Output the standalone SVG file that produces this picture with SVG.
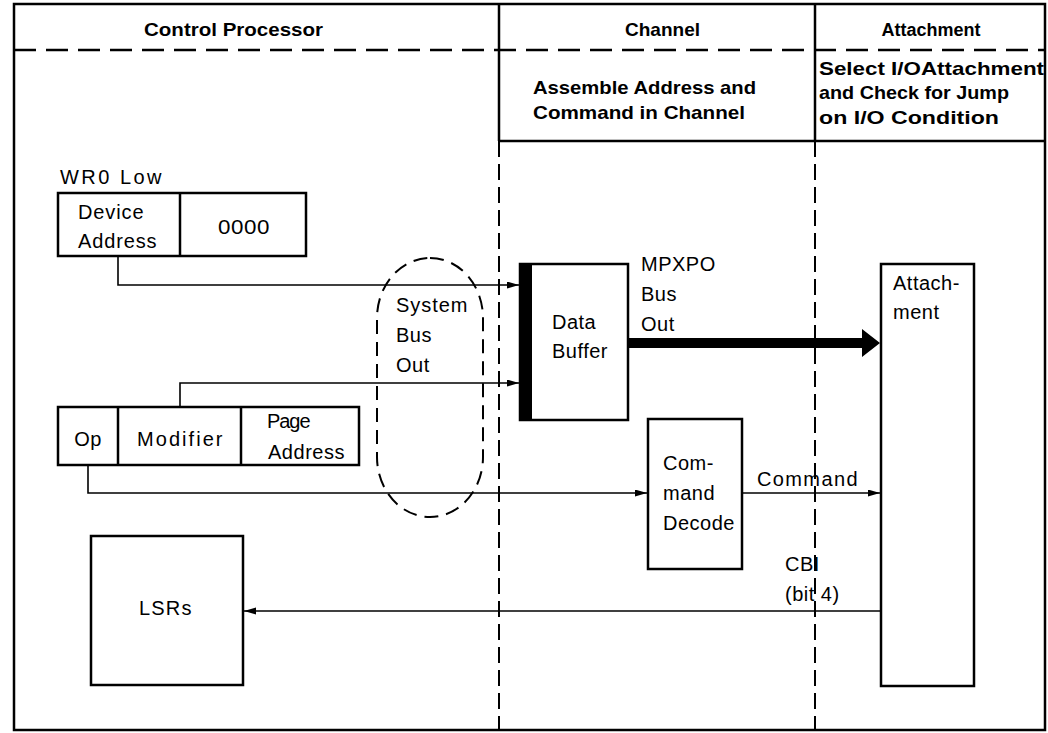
<svg xmlns="http://www.w3.org/2000/svg" width="1048" height="733" viewBox="0 0 1048 733">
<style>
.hd{font-family:"Liberation Sans",Arial,sans-serif;font-weight:bold;font-size:19px;fill:#000}
.tx{font-family:"Liberation Sans",Arial,sans-serif;font-size:20px;fill:#000;letter-spacing:0.5px}
.box{fill:#fff;stroke:#000;stroke-width:2.5}
.ln{fill:none;stroke:#000;stroke-width:1.6}
.dv{fill:none;stroke:#000;stroke-width:2;stroke-dasharray:16 7}
.dh{fill:none;stroke:#000;stroke-width:2.5;stroke-dasharray:22 10}
.sol{fill:none;stroke:#000;stroke-width:2.5}
</style>
<defs>
<marker id="ah" markerUnits="userSpaceOnUse" markerWidth="14" markerHeight="10" refX="12" refY="3.5" orient="auto">
<path d="M0,0 L12,3.5 L0,7 z" fill="#000"/>
</marker>
</defs>
<rect width="1048" height="733" fill="#fff"/>
<g id="frame">
<rect x="14" y="4" width="1031" height="726" class="sol"/>
<line x1="14" y1="50" x2="1045" y2="50" class="dh"/>
<line x1="499" y1="4" x2="499" y2="141" class="sol"/>
<line x1="815" y1="4" x2="815" y2="141" class="sol"/>
<line x1="499" y1="141" x2="1045" y2="141" class="sol"/>
<line x1="499" y1="141" x2="499" y2="730" class="dv"/>
<line x1="815" y1="141" x2="815" y2="730" class="dv"/>
</g>
<g id="headers">
<text class="hd" x="144" y="36" textLength="179" lengthAdjust="spacingAndGlyphs">Control Processor</text>
<text class="hd" x="625" y="36" textLength="75" lengthAdjust="spacingAndGlyphs">Channel</text>
<text class="hd" x="931" y="36" text-anchor="middle" style="font-size:18px">Attachment</text>
<text class="hd" x="533" y="94" textLength="223" lengthAdjust="spacingAndGlyphs">Assemble Address and</text>
<text class="hd" x="533" y="119" textLength="212" lengthAdjust="spacingAndGlyphs">Command in Channel</text>
<text class="hd" x="819" y="75" textLength="225" lengthAdjust="spacingAndGlyphs">Select I/OAttachment</text>
<text class="hd" x="819" y="99" textLength="190" lengthAdjust="spacingAndGlyphs">and Check for Jump</text>
<text class="hd" x="819" y="124" textLength="180" lengthAdjust="spacingAndGlyphs">on I/O Condition</text>
</g>
<g id="connectors">
<polyline class="ln" points="118,256 118,285 519,285" marker-end="url(#ah)"/>
<polyline class="ln" points="180,407 180,383 519,383" marker-end="url(#ah)"/>
<polyline class="ln" points="88,465 88,493 647,493" marker-end="url(#ah)"/>
<line class="ln" x1="742" y1="493" x2="880" y2="493" marker-end="url(#ah)"/>
<line class="ln" x1="881" y1="611" x2="244" y2="611" marker-end="url(#ah)"/>
<path d="M628,338 L862,338 L862,329 L880,343 L862,357 L862,348 L628,348 z" fill="#000"/>
<text class="tx" x="641" y="271">MPXPO</text>
<text class="tx" x="641" y="301">Bus</text>
<text class="tx" x="641" y="331">Out</text>
<text class="tx" x="757" y="486" textLength="101" lengthAdjust="spacing">Command</text>
<text class="tx" x="785" y="571">CBI</text>
<text class="tx" x="785" y="601">(bit 4)</text>
</g>
<g id="wr0">
<text class="tx" x="60" y="184" textLength="102" lengthAdjust="spacing">WR0 Low</text>
<rect class="box" x="58" y="193" width="248" height="63"/>
<line class="sol" x1="180" y1="193" x2="180" y2="256"/>
<text class="tx" x="78" y="219" textLength="66" lengthAdjust="spacing">Device</text>
<text class="tx" x="78" y="248" textLength="79" lengthAdjust="spacing">Address</text>
<text class="tx" x="218" y="234" textLength="52" lengthAdjust="spacingAndGlyphs">0000</text>
</g>
<g id="opreg">
<rect class="box" x="58" y="407" width="301" height="58"/>
<line class="sol" x1="118" y1="407" x2="118" y2="465"/>
<line class="sol" x1="241" y1="407" x2="241" y2="465"/>
<text class="tx" x="88" y="446" text-anchor="middle">Op</text>
<text class="tx" x="137" y="446" textLength="86" lengthAdjust="spacing">Modifier</text>
<text class="tx" x="267" y="428" textLength="44" lengthAdjust="spacing">Page</text>
<text class="tx" x="268" y="459" textLength="77" lengthAdjust="spacing">Address</text>
</g>
<g id="sysbus">
<rect x="377" y="258" width="106" height="259" rx="53" ry="60" fill="none" stroke="#000" stroke-width="2" stroke-dasharray="14 8"/>
<text class="tx" x="396" y="312" textLength="72" lengthAdjust="spacing">System</text>
<text class="tx" x="396" y="342">Bus</text>
<text class="tx" x="396" y="372">Out</text>
</g>
<g id="databuf">
<rect class="box" x="520" y="264" width="108" height="156"/>
<rect x="519" y="263" width="13" height="158" fill="#000"/>
<text class="tx" x="552" y="329">Data</text>
<text class="tx" x="552" y="358">Buffer</text>
</g>
<g id="cmddecode">
<rect class="box" x="648" y="419" width="94" height="150"/>
<text class="tx" x="663" y="470">Com-</text>
<text class="tx" x="663" y="500">mand</text>
<text class="tx" x="663" y="530">Decode</text>
</g>
<g id="attach">
<rect class="box" x="881" y="264" width="93" height="422"/>
<text class="tx" x="893" y="290">Attach-</text>
<text class="tx" x="893" y="319">ment</text>
</g>
<g id="lsrs">
<rect class="box" x="91" y="536" width="152" height="149"/>
<text class="tx" x="139" y="615" textLength="53" lengthAdjust="spacing">LSRs</text>
</g>
</svg>
